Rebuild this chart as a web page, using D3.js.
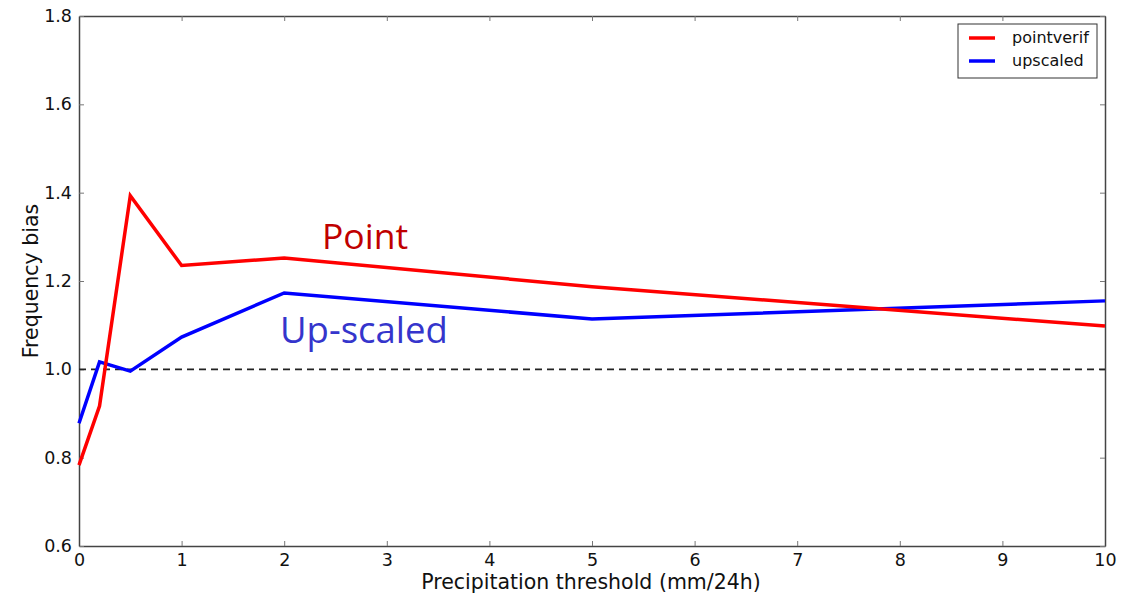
<!DOCTYPE html>
<html>
<head>
<meta charset="utf-8">
<script src="https://cdn.jsdelivr.net/npm/d3@7"></script>
<style>
  body { margin: 0; background: #fff; }
  text { font-family: "DejaVu Sans", sans-serif; }
</style>
</head>
<body>
<svg id="chart" width="1132" height="597"></svg>
<script>
// data
const thresholds = [0, 0.2, 0.5, 1, 2, 5, 10];
const pointverif = [0.783, 0.917, 1.393, 1.235, 1.252, 1.187, 1.098];
const upscaled   = [0.878, 1.017, 0.996, 1.073, 1.173, 1.114, 1.155];
const xTicks = [0, 1, 2, 3, 4, 5, 6, 7, 8, 9, 10];
const yTicks = [0.6, 0.8, 1.0, 1.2, 1.4, 1.6, 1.8];

function init() {
    const svg = d3.select('#chart');

    var x = d3.scaleLinear().domain([0, 10]).range([79, 1105]);
    var y = d3.scaleLinear().domain([0.6, 1.8]).range([546, 16]);

    // axes, matplotlib style: ticks inward on all four sides
    svg.append("g")
      .attr("transform", "translate(0,546)")
      .call(d3.axisBottom(x).tickValues(xTicks).tickSizeInner(-5).tickSizeOuter(0).tickPadding(8).tickFormat(d3.format("d")))
      .call(g => g.selectAll("text").attr("font-size", 17.5).attr("fill", "#111"));
    svg.append("g")
      .attr("transform", "translate(0,16)")
      .call(d3.axisTop(x).tickValues(xTicks).tickSizeInner(-5).tickSizeOuter(0).tickFormat(""));
    svg.append("g")
      .attr("transform", "translate(79,0)")
      .call(d3.axisLeft(y).tickValues(yTicks).tickSizeInner(-5).tickSizeOuter(0).tickPadding(7).tickFormat(d3.format(".1f")))
      .call(g => g.selectAll("text").attr("font-size", 17.5).attr("fill", "#111"));
    svg.append("g")
      .attr("transform", "translate(1105,0)")
      .call(d3.axisRight(y).tickValues(yTicks).tickSizeInner(-5).tickSizeOuter(0).tickFormat(""));

    svg.selectAll(".domain").attr("stroke", "#444").attr("stroke-width", 1.5);
    svg.selectAll(".tick line").attr("stroke", "#777");

    // reference line at 1.0
    svg.append("line")
      .attr("x1", x(0)).attr("x2", x(10))
      .attr("y1", y(1)).attr("y2", y(1))
      .attr("stroke", "#222").attr("stroke-width", 1.8)
      .attr("stroke-dasharray", "7,5");

    const line = d3.line().x(d => x(d[0])).y(d => y(d[1]));

    svg.append("path")
      .datum(d3.zip(thresholds, upscaled))
      .attr("d", line)
      .attr("fill", "none").attr("stroke", "#0000ff").attr("stroke-width", 3.5);
    svg.append("path")
      .datum(d3.zip(thresholds, pointverif))
      .attr("d", line)
      .attr("fill", "none").attr("stroke", "#ff0000").attr("stroke-width", 3.5);

    // annotations
    svg.append("text").attr("x", 322).attr("y", 249)
      .style("font-family", "'Open Sans', sans-serif")
      .attr("font-size", 35.5).attr("fill", "#c00000").text("Point");
    svg.append("text").attr("x", 280).attr("y", 343)
      .style("font-family", "'Open Sans', sans-serif")
      .attr("font-size", 36.5).attr("fill", "#3535cc").text("Up-scaled");

    // axis labels
    svg.append("text").attr("x", 591).attr("y", 589)
      .attr("text-anchor", "middle").attr("font-size", 20.5).attr("fill", "#111")
      .text("Precipitation threshold (mm/24h)");
    svg.append("text")
      .attr("transform", "translate(38,281) rotate(-90)")
      .attr("text-anchor", "middle").attr("font-size", 20.5).attr("fill", "#111")
      .text("Frequency bias");

    // legend
    const lg = svg.append("g");
    lg.append("rect").attr("x", 958).attr("y", 24).attr("width", 139).attr("height", 54)
      .attr("fill", "#fff").attr("stroke", "#333").attr("stroke-width", 1);
    const items = [["pointverif", "#ff0000"], ["upscaled", "#0000ff"]];
    items.forEach((it, i) => {
        lg.append("line").attr("x1", 969).attr("x2", 995)
          .attr("y1", 38 + i * 23).attr("y2", 38 + i * 23)
          .attr("stroke", it[1]).attr("stroke-width", 3.5);
        lg.append("text").attr("x", 1012).attr("y", 43 + i * 23)
          .attr("font-size", 16).attr("fill", "#111").text(it[0]);
    });
}

init();
</script>
</body>
</html>
